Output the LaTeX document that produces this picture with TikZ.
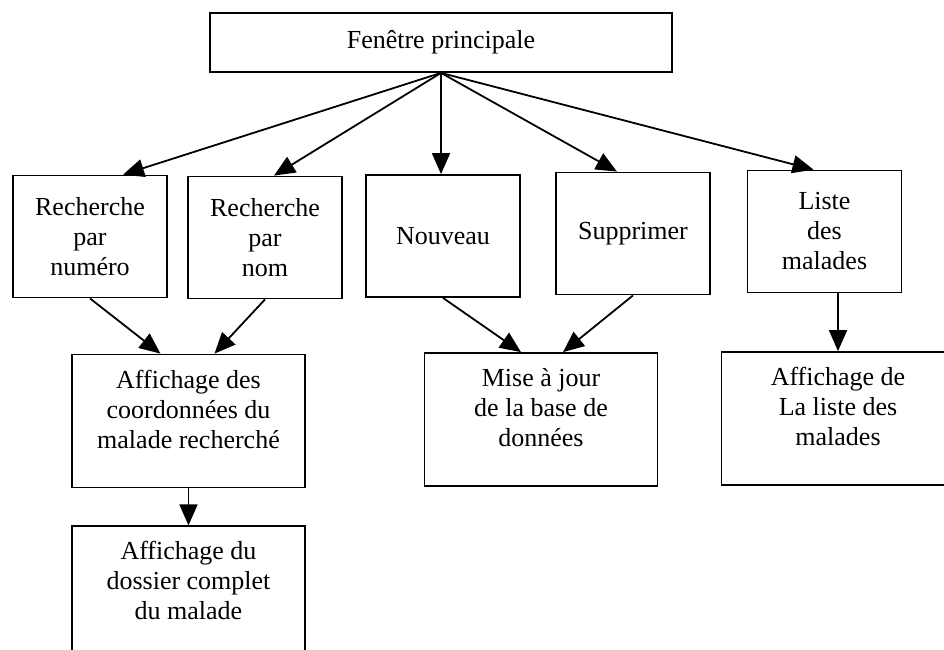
\documentclass[tikz,border=0pt]{standalone}
\usepackage{fontspec}
\setmainfont{Liberation Serif}
\usetikzlibrary{arrows.meta, positioning, calc}

\begin{document}
\begin{tikzpicture}[
    x=1pt, y=-1pt,
    box/.style={rectangle, draw, line width=1.8pt, inner sep=0pt, align=center, font=\fontsize{26}{30}\selectfont},
    menu/.style={box, minimum width=154pt, minimum height=122pt},
    result/.style={box, minimum width=233pt, minimum height=133pt},
    arrow/.style={-{Triangle[length=21pt, width=18pt]}, line width=1.8pt}
]
    \useasboundingbox (0,0) rectangle (944,649);
    \clip (0,0) rectangle (944,649);

    % Main window
    \node[box, minimum width=462pt, minimum height=59pt] (main) at (441,42.5) {Fenêtre principale};

    % Menu entries
    \node[menu] (numero) at (90,236.5) {Recherche\\par\\numéro};
    \node[menu] (nom) at (265,237.5) {Recherche\\par\\nom};
    \node[menu] (nouveau) at (443,236) {Nouveau};
    \node[menu] (supprimer) at (633,233.5) {Supprimer};
    \node[menu] (liste) at (824.5,231.5) {Liste\\des\\malades};

    % Results
    \node[result] (coord) at (188.5,421) {Affichage des\\coordonnées du\\malade recherché\\[-6pt]\mbox{}};
    \node[result] (maj) at (541,419.5) {Mise à jour\\de la base de\\données\\[-6pt]\mbox{}};
    \node[result] (affliste) at (838,418.5) {Affichage de\\La liste des\\malades\\[-6pt]\mbox{}};
    \node[result, below=37pt of coord] (dossier) {Affichage du\\dossier complet\\du malade\\[-6pt]\mbox{}};

    % Arrows from the main window
    \draw[arrow] (main.south) -- ($(numero.north)+(33,0)$);
    \draw[arrow] (main.south) -- ($(nom.north)+(9,0)$);
    \draw[arrow] (main.south) -- (nouveau.north -| main.south);
    \draw[arrow] (main.south) -- ($(supprimer.north)+(-16,0)$);
    \draw[arrow] (main.south) -- ($(liste.north)+(-11,0)$);

    % Arrows to the results
    \draw[arrow] (numero.south) -- ($(coord.north)+(-28,0)$);
    \draw[arrow] (nom.south) -- ($(coord.north)+(26,0)$);
    \draw[arrow] (nouveau.south) -- ($(maj.north)+(-20,0)$);
    \draw[arrow] (supprimer.south) -- ($(maj.north)+(22,0)$);
    \draw[arrow] (affliste.north |- liste.south) -- (affliste.north);
    \draw[arrow] (coord.south) -- (dossier.north);

\end{tikzpicture}
\end{document}
